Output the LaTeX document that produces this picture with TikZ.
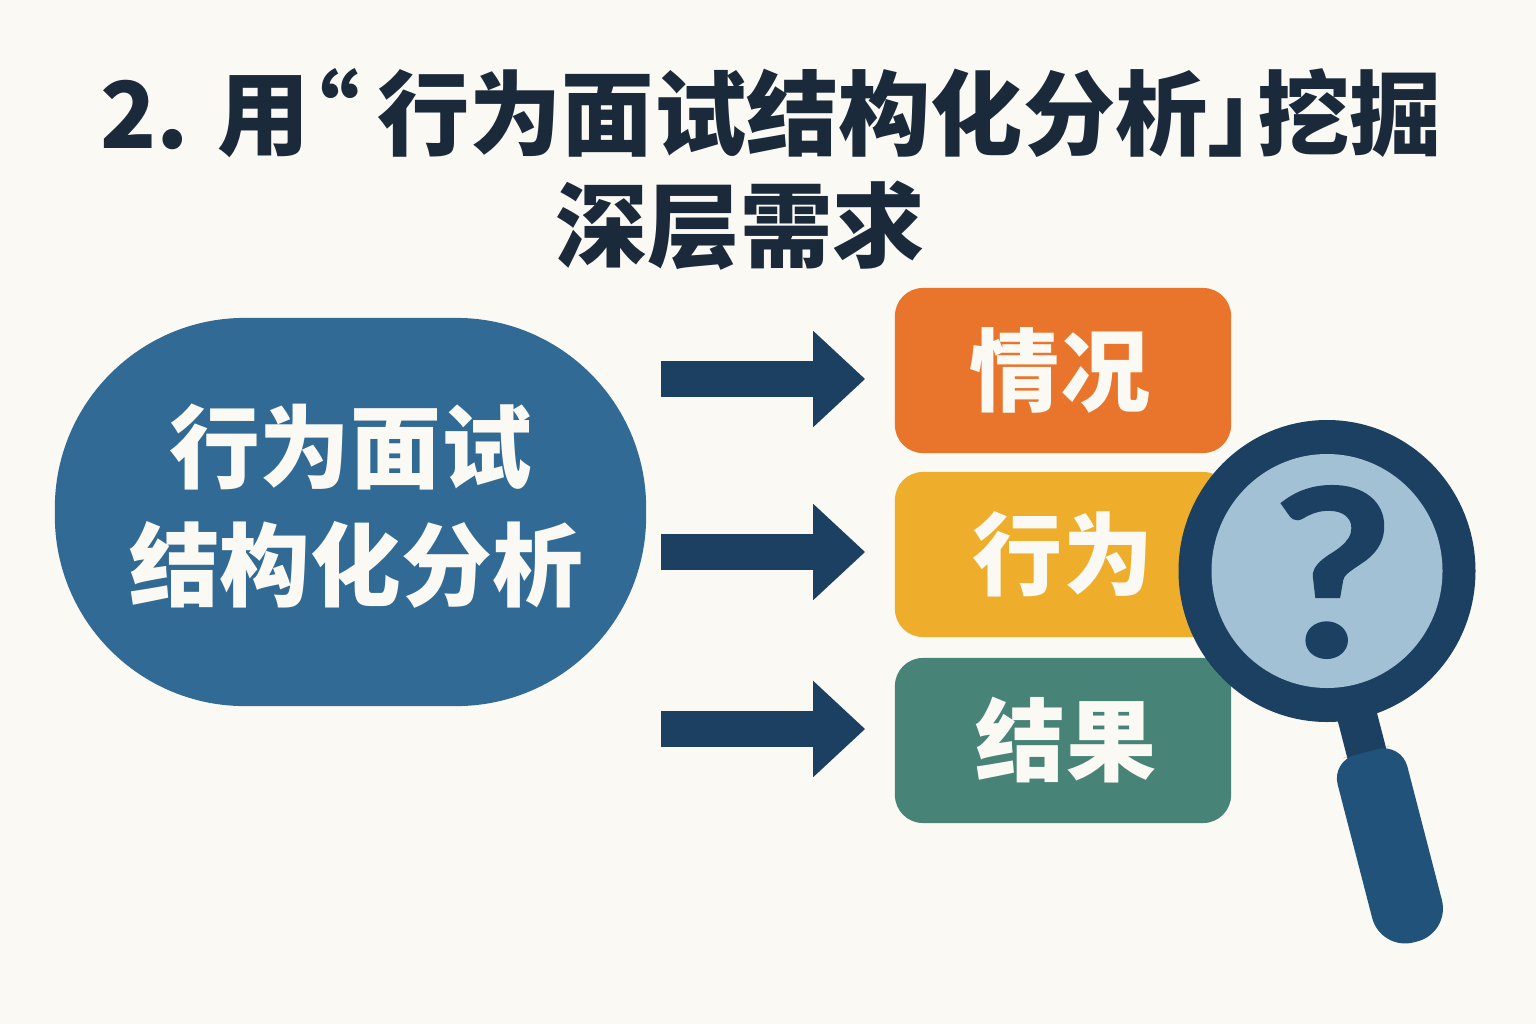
\documentclass[tikz,border=0pt]{standalone}
\usepackage{fontspec}
\usetikzlibrary{arrows.meta}
\newfontfamily\cjk{Noto Sans CJK SC}
\newfontfamily\markfont[BoldFeatures={FakeBold=1.2}]{Lato}
\definecolor{paper}{HTML}{FBF9F3}
\definecolor{titleink}{HTML}{1B2A3A}
\definecolor{blobblue}{HTML}{316A94}
\definecolor{navy}{HTML}{1B4062}
\definecolor{boxorange}{HTML}{E8752B}
\definecolor{boxyellow}{HTML}{EEAE2B}
\definecolor{boxgreen}{HTML}{478477}
\definecolor{lens}{HTML}{A3C1D4}
\definecolor{grip}{HTML}{20527A}
\tikzset{
    titleline/.style={text=titleink,font=\cjk\bfseries\fontsize{26.25}{30}\selectfont,inner sep=0pt},
    stepbox/.style={rounded corners=.28cm,minimum width=3.36cm,minimum height=1.65cm,inner sep=0pt,
        text=paper,font=\cjk\bfseries\fontsize{25.6}{30}\selectfont},
    flowarrow/.style={navy,line width=.35cm,-{Triangle[length=.52cm,width=.93cm]},shorten <=.14cm,shorten >=.29cm},
}
\begin{document}
\begin{tikzpicture}[x=.01cm,y=-.01cm]
    % Background
    \fill[paper] (0,0) rectangle (1536,1024);

    % Title
    \node[titleline,anchor=west] (title1) at (100,113) {2. 用\hspace{-.42cm}“\hspace{.17cm}行为面试结构化分析」\hspace{-.43cm}挖掘};
    \node[titleline] (title2) at (740,226) {深层需求};

    % Left blob
    \node[fill=blobblue,rounded corners=1.9cm,minimum width=5.91cm,minimum height=3.88cm,inner sep=0pt] (blob) at (350.5,512) {};
    \node[text=paper,align=center,inner sep=0pt,font=\cjk\bfseries\fontsize{25.8}{33.6}\selectfont] (blobtext) at (350.5,506) {行为面试\\\hspace{.11cm}结构化分析};

    % Three boxes
    \node[stepbox,fill=boxorange] (situation) at (1063,370.5) {\hspace{-.06cm}情况};
    \node[stepbox,fill=boxyellow] (action) at (1063,554.5) {行为};
    \node[stepbox,fill=boxgreen] (outcome) at (1063,740.5) {\hspace{.06cm}结果};

    % Arrows
    \coordinate (row1) at (0,379);
    \coordinate (row2) at (0,552);
    \coordinate (row3) at (0,729);
    \draw[flowarrow] (blob.east |- row1) -- (situation.west |- row1);
    \draw[flowarrow] (blob.east |- row2) -- (action.west |- row2);
    \draw[flowarrow] (blob.east |- row3) -- (outcome.west |- row3);

    % Handle of the magnifier
    \begin{scope}[shift={(1391,847)},rotate=14.5]
        \fill[navy] (-20,-150) rectangle (20,-80);
        \fill[grip] (0,-98) [rounded corners=.24cm] -- (36,-98) [rounded corners=.34cm] -- (36,98) -- (-36,98) [rounded corners=.24cm] -- (-36,-98) -- cycle;
    \end{scope}

    % Magnifier
    \fill[navy] (1327,571) ellipse [x radius=148.5,y radius=151];
    \fill[lens] (1327,571) ellipse [x radius=115.5,y radius=117];
    \node[text=navy,font=\markfont\bfseries\fontsize{66}{70}\selectfont,inner sep=0pt,xscale=1.12,transform shape] (mark) at (1333,572) {?};
\end{tikzpicture}
\end{document}
